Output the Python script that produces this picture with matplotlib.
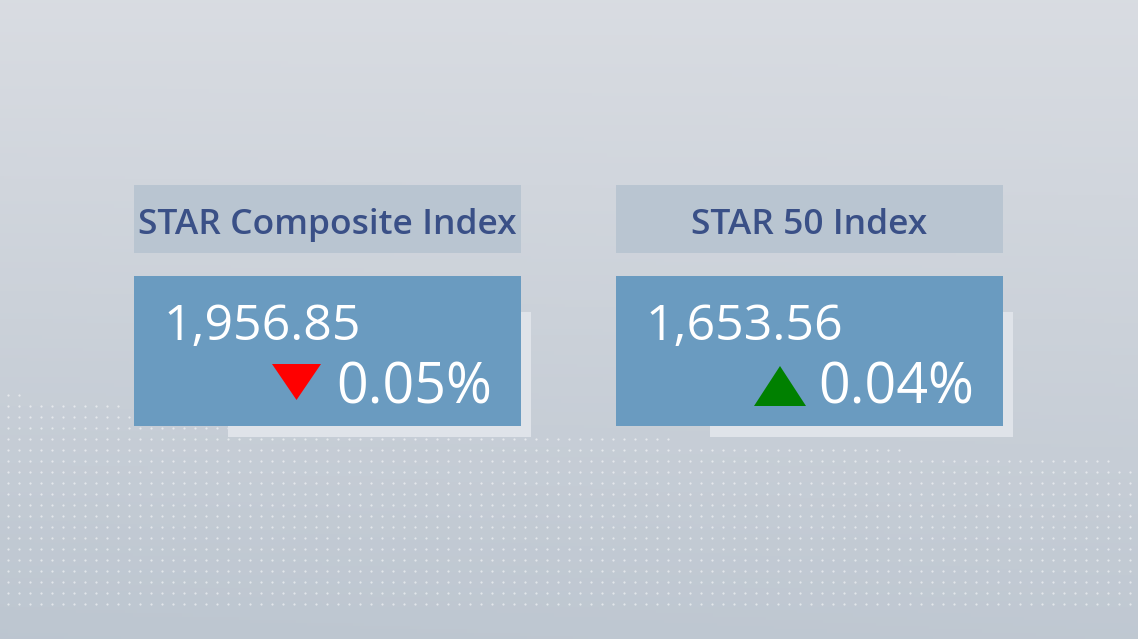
import matplotlib
matplotlib.use("Agg")
import matplotlib.pyplot as plt
from matplotlib.patches import Rectangle, Polygon
import numpy as np

# data
names = ["STAR Composite Index", "STAR 50 Index"]
values = [1956.85, 1653.56]
changes = [-0.05, 0.04]

W, H = 1138, 639
fig = plt.figure(figsize=(W / 100, H / 100), dpi=100)
ax = fig.add_axes([0, 0, 1, 1])
ax.set_xlim(0, W)
ax.set_ylim(H, 0)
ax.axis("off")

# background gradient
top = np.array([0.850, 0.863, 0.886])
bot = np.array([0.740, 0.776, 0.816])
yy = np.linspace(0, 1, 200)[:, None]
xx = np.linspace(0, 1, 300)[None, :]
t = np.clip(yy * 0.9 + 0.1 * (1 - xx) * yy, 0, 1)
grad = top[None, None, :] * (1 - t[..., None]) + bot[None, None, :] * t[..., None]
ax.imshow(grad, extent=(0, W, H, 0), aspect="auto", zorder=0)

# dotted texture in the lower half
gx, gy = np.meshgrid(np.arange(8, W, 11), np.arange(395, 615, 11))
edge = np.interp(gx, [0, 300, 700, W], [392, 425, 440, 462])
keep = gy >= edge
ax.scatter(gx[keep], gy[keep], s=2.5, c="white", alpha=0.55, linewidths=0, zorder=1)

panel_x = [134, 616]
pw = 387

for i in range(len(names)):
    x0 = panel_x[i]
    # shadow card
    ax.add_patch(Rectangle((x0 + 94, 312), pw - 84, 125, fc="#dfe3e9", ec="none", zorder=2))
    # title bar
    ax.add_patch(Rectangle((x0, 185), pw, 68, fc="#b9c5d1", ec="none", zorder=3))
    ax.text(x0 + pw / 2, 234, names[i], ha="center", va="baseline", fontsize=25.5,
            family="Open Sans", fontweight="semibold", color="#3a5087", zorder=4)
    # value card
    ax.add_patch(Rectangle((x0, 276), pw, 150, fc="#6a9bc0", ec="none", zorder=3))
    ax.text(x0 + 30, 340, "{:,.2f}".format(values[i]), ha="left", va="baseline",
            fontsize=36, family="Open Sans", color="white", zorder=4)
    ax.text(x0 + pw - 29, 403, "{:.2f}%".format(abs(changes[i])), ha="right",
            va="baseline", fontsize=40, family="Open Sans", color="white", zorder=4)
    # arrow
    tx = x0 + 138
    if changes[i] < 0:
        tri = [(tx, 364), (tx + 49, 364), (tx + 24.5, 400)]
        col = "#ff0000"
    else:
        tri = [(tx, 406), (tx + 52, 406), (tx + 26, 366)]
        col = "#008000"
    ax.add_patch(Polygon(tri, closed=True, fc=col, ec="none", zorder=4))

fig.savefig("out.png", dpi=100)
